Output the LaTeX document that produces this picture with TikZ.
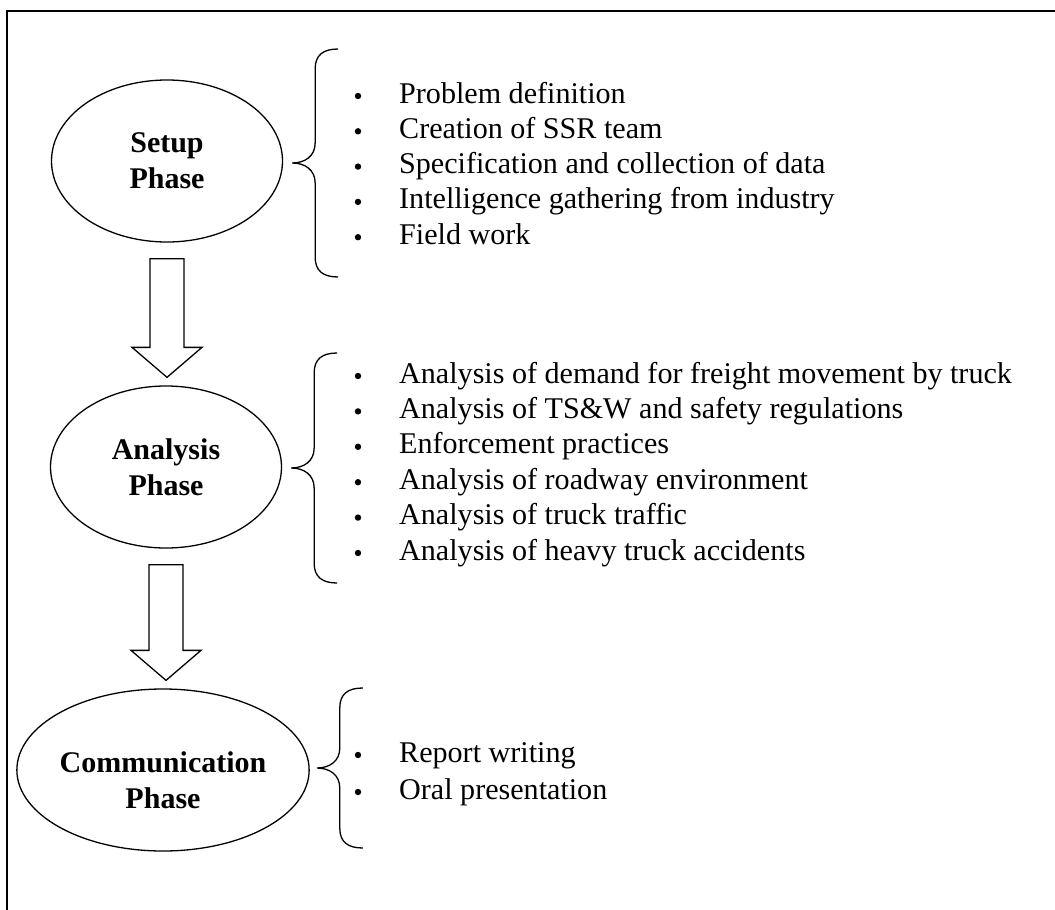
\documentclass[tikz,border=0pt]{standalone}
\usepackage{fontspec}
\setmainfont{Liberation Serif}
\usetikzlibrary{calc, shapes.geometric}

\begin{document}
\begin{tikzpicture}[x=1pt, y=-1pt,
  phase/.style={ellipse, draw, line width=1.3pt, minimum width=231pt, minimum height=162pt,
    inner sep=0pt, align=center, font=\fontsize{30}{36}\selectfont\bfseries},
  item/.style={anchor=base west, inner sep=0pt, font=\fontsize{30.1}{36}\selectfont},
  flow/.style={draw, line width=1.3pt, line join=miter, fill=white},
  pics/curly/.style={code={
    \draw[line width=1.3pt] (46,{-#1}) .. controls (31,{-#1}) and (23,{6-#1}) .. (23,{20-#1})
      -- (23,-20) .. controls (23,-7) and (13,0) .. (0,0)
      .. controls (13,0) and (23,7) .. (23,20)
      -- (23,{#1-20}) .. controls (23,{#1-6}) and (31,#1) .. (46,#1);
  }}]

\useasboundingbox (0,0) rectangle (1055,910);

% Frame (top and left edges)
\draw[line width=1.5pt] (7,910) -- (7,11) -- (1055,11);

% Phases
\node[phase] (setup) at (167,161) {Setup\\Phase};
\node[phase] (analysis) at (166,467) {Analysis\\Phase};
\node[phase] (comm) at (163,770) {\rule{0pt}{42pt}Communication\\Phase};

% Hollow arrows between the phases
\foreach \a/\b in {setup/analysis, analysis/comm} {
  \coordinate (\a-top) at ($(\a.south)+(0,16)$);
  \coordinate (\a-tip) at ($(\a.south |- \b.north)+(0,-8)$);
  \draw[flow] ($(\a-top)+(-17,0)$) -- ($(\a-tip)+(-17,-30)$) -- ($(\a-tip)+(-35,-30)$)
    -- (\a-tip) -- ($(\a-tip)+(35,-30)$) -- ($(\a-tip)+(17,-30)$) -- ($(\a-top)+(17,0)$) -- cycle;
}

% Braces
\pic at ($(setup.east)+(9,2)$) {curly=114};
\pic at ($(analysis.east)+(9,1)$) {curly=115};
\pic at ($(comm.east)+(7,-2)$) {curly=80};

% Task lists (baseline 7pt below the bullet)
\foreach \txt [count=\i] in {Problem definition, Creation of SSR team,
    Specification and collection of data, Intelligence gathering from industry, Field work} {
  \node[item] (setup-\i) at (399,{103+35.3*(\i-1)}) {\txt};
  \fill ([xshift=-41pt, yshift=7pt]setup-\i.base west) circle (3.2pt);
}
\foreach \txt [count=\i] in {Analysis of demand for freight movement by truck,
    Analysis of TS\&W and safety regulations, Enforcement practices,
    Analysis of roadway environment, Analysis of truck traffic,
    Analysis of heavy truck accidents} {
  \node[item] (analysis-\i) at (399,{383+35.4*(\i-1)}) {\txt};
  \fill ([xshift=-41pt, yshift=7pt]analysis-\i.base west) circle (3.2pt);
}
\foreach \txt [count=\i] in {Report writing, Oral presentation} {
  \node[item] (comm-\i) at (399,{762+37*(\i-1)}) {\txt};
  \fill ([xshift=-41pt, yshift=7pt]comm-\i.base west) circle (3.2pt);
}

\end{tikzpicture}
\end{document}
